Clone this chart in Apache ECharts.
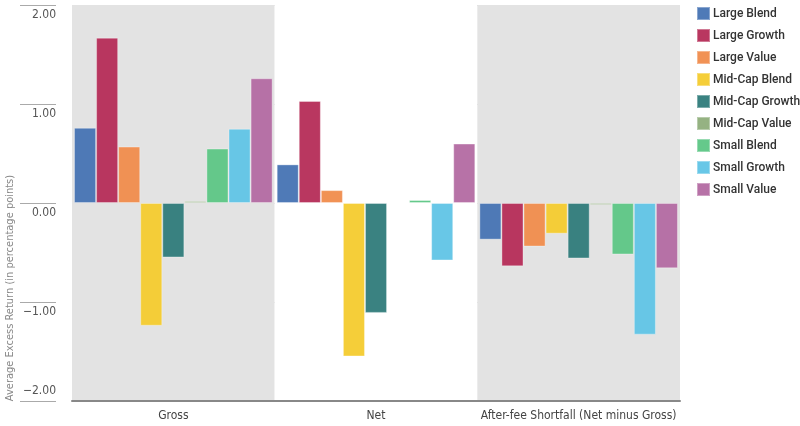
<!DOCTYPE html>
<html>
<head>
<meta charset="utf-8">
<script src="https://cdn.jsdelivr.net/npm/echarts@6/dist/echarts.min.js"></script>
<style>
  html, body { margin: 0; padding: 0; background: #fff; }
  #chart { width: 800px; height: 426px; }
</style>
</head>
<body>
<div id="chart"></div>
<script>
  // categories on the x axis
  var categories = ['Gross', 'Net', 'After-fee Shortfall (Net minus Gross)'];
  // one series per style box: [gross, net, shortfall]
  var seriesNames = ['Large Blend', 'Large Growth', 'Large Value', 'Mid-Cap Blend', 'Mid-Cap Growth',
                     'Mid-Cap Value', 'Small Blend', 'Small Growth', 'Small Value'];
  var largeBlend   = [0.76, 0.39, -0.37];
  var largeGrowth  = [1.67, 1.03, -0.64];
  var largeValue   = [0.57, 0.13, -0.44];
  var midBlend     = [-1.24, -1.55, -0.31];
  var midGrowth    = [-0.55, -1.11, -0.56];
  var midValue     = [0.02, 0.00, -0.02];
  var smallBlend   = [0.55, 0.03, -0.52];
  var smallGrowth  = [0.75, -0.58, -1.33];
  var smallValue   = [1.26, 0.60, -0.66];
  var yTicks = [-2, -1, 0, 1, 2];

  var colors = ['#4673b3', '#b52c57', '#f08c4c', '#f4cb2e', '#2f7b7a',
                '#8fae7b', '#5dc685', '#60c4e6', '#b36aa2'];
  var allData = [largeBlend, largeGrowth, largeValue, midBlend, midGrowth,
                 midValue, smallBlend, smallGrowth, smallValue];

  var font = "'DejaVu Sans Condensed', 'Roboto', sans-serif";

  var myChart = echarts.init(document.getElementById('chart'));
  var series = seriesNames.map(function(n, i) {
    return {
      name: n,
      type: 'bar',
      data: allData[i],
      barGap: '0%',
      barCategoryGap: '2%',
      itemStyle: { color: colors[i], opacity: 0.95, borderColor: 'rgba(255,255,255,0.35)', borderWidth: 1 }
    };
  });

  var option = {
    animation: false,
    color: colors,
    grid: { left: 72, right: 120, top: 5, bottom: 25, outerBoundsMode: 'none', containLabel: false },
    legend: {
      orient: 'vertical',
      left: 696,
      top: 6,
      padding: 0,
      itemWidth: 13,
      itemHeight: 13,
      itemGap: 7,
      icon: 'rect',
      data: seriesNames,
      textStyle: { fontFamily: 'Roboto', fontSize: 12, fontWeight: 500, color: '#333', padding: [0, 0, 0, -2] }
    },
    xAxis: {
      type: 'category',
      data: categories,
      position: 'bottom',
      axisLine: { onZero: false, lineStyle: { color: '#888', width: 2 } },
      axisTick: { show: false, interval: 0 },
      axisLabel: { interval: 0, fontFamily: font, fontSize: 12, color: '#444', margin: 9 },
      splitArea: { show: true, interval: 0, areaStyle: { color: ['#e3e3e3', '#ffffff'] } }
    },
    yAxis: {
      type: 'value',
      min: yTicks[0],
      max: yTicks[yTicks.length - 1],
      interval: 1,
      offset: 16,
      name: 'Average Excess Return (in percentage points)',
      nameLocation: 'middle',
      nameRotate: 90,
      nameGap: 40,
      nameMoveOverlap: false,
      nameTextStyle: { fontFamily: font, fontSize: 11, color: '#888', padding: [0, 0, 0, -170] },
      axisLine: { show: false },
      axisTick: { show: true, length: 36, lineStyle: { color: '#aaa', width: 1 } },
      axisLabel: {
        margin: 0,
        fontFamily: font,
        fontSize: 12,
        color: '#555',
        formatter: function(v) {
          var s = (v < 0 ? '\u2212' : '') + Math.abs(v).toFixed(2);
          return v === yTicks[0] ? '{b|' + s + '}' : '{a|' + s + '}';
        },
        rich: {
          a: { padding: [20, 0, 0, 0], fontFamily: font, fontSize: 12, color: '#555' },
          b: { padding: [0, 0, 20, 0], fontFamily: font, fontSize: 12, color: '#555' }
        }
      },
      splitLine: { lineStyle: { color: '#d2d2d2', width: 1 } }
    },
    series: series
  };
  myChart.setOption(option);
</script>
</body>
</html>
